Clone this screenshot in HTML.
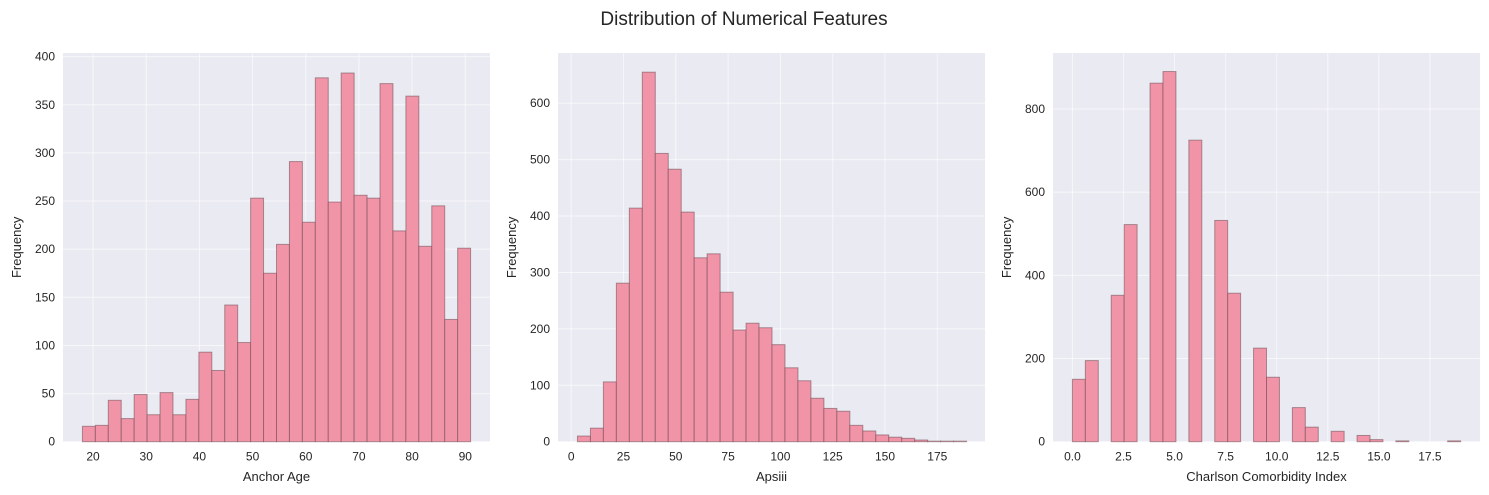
<!DOCTYPE html>
<html><head><meta charset="utf-8"><style>
body{margin:0;background:#fff}
svg{display:block;font-family:"Liberation Sans",Arial,sans-serif}
</style></head><body>
<svg id="chart" width="1489" height="495" viewBox="0 0 1489 495">
<text x="744" y="25" text-anchor="middle" font-size="19" fill="#262626">Distribution of Numerical Features</text>
</svg>
<script>
const ageCounts=[16,17,43,24,49,28,51,28,44,93,74,142,103,253,175,205,291,228,378,249,383,256,253,372,219,359,203,245,127,201];
const ageRange=[18,91];
const ageXTicks=[20,30,40,50,60,70,80,90];
const ageYTicks=[0,50,100,150,200,250,300,350,400];
const apsCounts=[10,24,106,281,414,655,511,483,407,326,333,265,198,210,202,172,131,108,77,59,54,29,19,12,8,6,3,1,1,1];
const apsRange=[3,189];
const apsXTicks=[0,25,50,75,100,125,150,175];
const apsYTicks=[0,100,200,300,400,500,600];
const cciCounts=[150,195,0,352,522,0,862,890,0,725,0,532,357,0,225,155,0,82,35,0,25,0,15,5,0,2,0,0,0,2];
const cciRange=[0,19];
const cciXTicks=[0,2.5,5,7.5,10,12.5,15,17.5];
const cciYTicks=[0,200,400,600,800];

const NS='http://www.w3.org/2000/svg';
const svg=document.getElementById('chart');
function mk(tag,attrs,parent){const e=document.createElementNS(NS,tag);for(const k in attrs)e.setAttribute(k,attrs[k]);(parent||svg).appendChild(e);return e;}

function panel(id,px0,px1,xdom,ymax,counts,range,xt,yt,xfmt,xlabel,ylx){
  const py0=441.7,py1=53;
  const g=mk('g',{});
  
  
  const X=v=>px0+(v-xdom[0])/(xdom[1]-xdom[0])*(px1-px0);
  const Y=v=>py0-v/ymax*(py0-py1);
  const bg=mk('rect',{x:px0,y:py1,width:px1-px0,height:py0-py1,fill:'#eaeaf2'},g);
  
  
  xt.forEach(t=>{
    const l=mk('line',{x1:X(t),x2:X(t),y1:py1,y2:py0,stroke:'#fff','stroke-opacity':0.6,'stroke-width':1},g);
    
    
    const tx=mk('text',{x:X(t),y:py0+19,'text-anchor':'middle','font-size':12,fill:'#262626'},g);
    tx.textContent=xfmt(t);
    
    
  });
  yt.forEach(t=>{
    const l=mk('line',{x1:px0,x2:px1,y1:Y(t),y2:Y(t),stroke:'#fff','stroke-opacity':0.6,'stroke-width':1},g);
    
    
    const tx=mk('text',{x:px0-8,y:Y(t)+4,'text-anchor':'end','font-size':12,fill:'#262626'},g);
    tx.textContent=t;
    
    
  });
  const w=(range[1]-range[0])/counts.length;
  counts.forEach((c,i)=>{
    if(c<=0)return;
    const x0=X(range[0]+i*w),x1=X(range[0]+(i+1)*w);
    const r=mk('rect',{x:x0,y:Y(c),width:x1-x0,height:py0-Y(c),fill:'#f294a8',stroke:'#6b4a52','stroke-opacity':0.55,'stroke-width':1},g);
    
    
  });
  const xl=mk('text',{x:(px0+px1)/2,y:481,'text-anchor':'middle','font-size':13,fill:'#262626'},g);
  xl.textContent=xlabel;
  
  
  const cx=ylx,cy=(py0+py1)/2;
  const yl=mk('text',{x:cx,y:cy,'text-anchor':'middle','font-size':13,fill:'#262626',transform:'rotate(-90 '+cx+' '+cy+')'},g);
  yl.textContent='Frequency';
  
  
}
panel('anchor-age',63,490,[14.35,94.65],403.8,ageCounts,ageRange,ageXTicks,ageYTicks,t=>String(t),'Anchor Age',21);
panel('apsiii',558,985,[-6.3,197.8],689,apsCounts,apsRange,apsXTicks,apsYTicks,t=>String(t),'Apsiii',516);
panel('charlson',1053,1480,[-0.95,19.95],934.6,cciCounts,cciRange,cciXTicks,cciYTicks,t=>t.toFixed(1),'Charlson Comorbidity Index',1011);
</script>
</body></html>
